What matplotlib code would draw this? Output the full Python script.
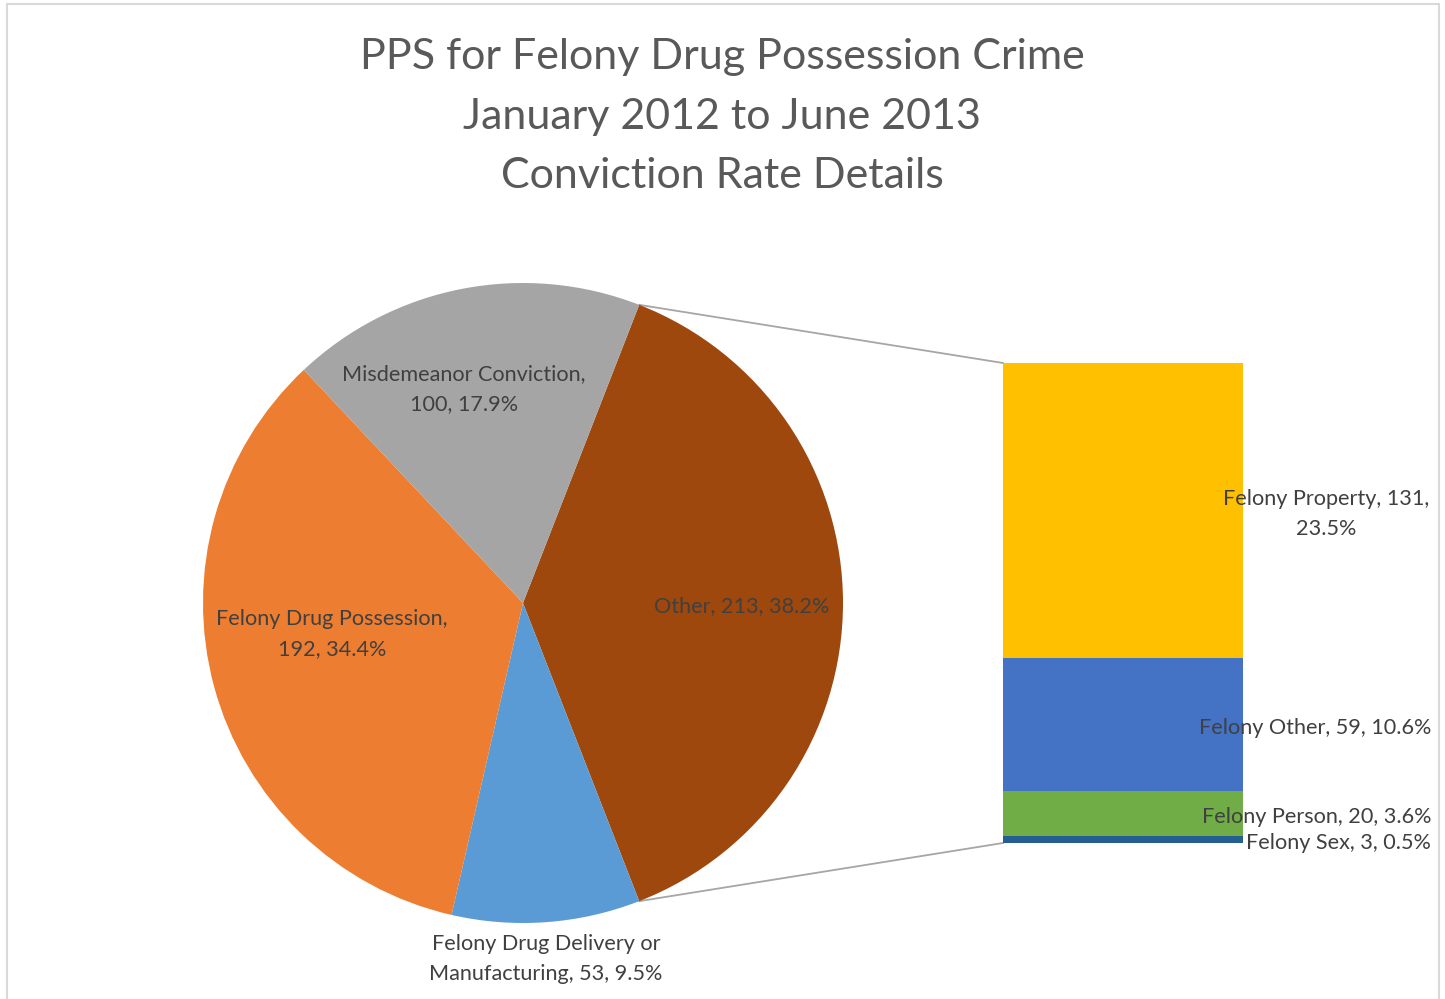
import numpy as np
import matplotlib.pyplot as plt
from matplotlib.patches import Rectangle

plt.rcParams['font.family'] = ['Lato', 'DejaVu Sans']

# Conviction outcomes (pie) and the split of "Other" (bar)
pie_names = ['Other', 'Felony Drug Delivery or\nManufacturing', 'Felony Drug Possession,\n', 'Misdemeanor Conviction,\n']
pie_counts = [213, 53, 192, 100]
pie_colors = ['#9E480E', '#5B9BD5', '#ED7D31', '#A5A5A5']

bar_names = ['Felony Sex', 'Felony Person', 'Felony Other', 'Felony Property']
bar_counts = [3, 20, 59, 131]
bar_colors = ['#255E91', '#70AD47', '#4472C4', '#FFC000']

title_lines = ['PPS for Felony Drug Possession Crime', 'January 2012 to June 2013', 'Conviction Rate Details']

W, H = 1445, 999
fig = plt.figure(figsize=(W / 100, H / 100), dpi=100)
ax = fig.add_axes([0, 0, 1, 1])

total = sum(pie_counts)
pct = [100 * c / total for c in pie_counts]

# pie: "Other" centred on the right-hand side
cx, cy, r = 523, H - 603, 320
other_span = 360 * pie_counts[0] / total
start = other_span / 2
ax.pie(pie_counts, colors=pie_colors, startangle=start, counterclock=False,
       center=(cx, cy), radius=r, frame=True)

# stacked bar for the breakdown of "Other"
bx, bw = 1003, 240
btop, bbot = H - 363, H - 843
scale = (btop - bbot) / sum(bar_counts)
bottoms = np.concatenate([[0], np.cumsum(bar_counts)[:-1]])
ax.bar(bx + bw / 2, np.array(bar_counts) * scale, width=bw,
       bottom=bbot + bottoms * scale, color=bar_colors, linewidth=0)

# connector lines from the edges of "Other" to the bar corners
for ang, by in [(start, btop), (-start, bbot)]:
    px = cx + r * np.cos(np.radians(ang))
    py = cy + r * np.sin(np.radians(ang))
    ax.plot([px, bx], [py, by], color='#A6A6A6', lw=1.3, zorder=0)

lab = dict(color='#404040', fontsize=15.6, ha='center', va='center', linespacing=1.65)
rlab = {**lab, 'ha': 'right'}

def fmt(name, count, p):
    return f'{name}{count}, {p:.1f}%' if name.endswith('\n') else f'{name}, {count}, {p:.1f}%'

ax.text(742, H - 606, fmt(pie_names[0], pie_counts[0], pct[0]), **lab)
ax.text(546, H - 959, fmt(pie_names[1], pie_counts[1], pct[1]), **lab)
ax.text(332, H - 634, fmt(pie_names[2], pie_counts[2], pct[2]), **lab)
ax.text(464, H - 389, fmt(pie_names[3], pie_counts[3], pct[3]), **lab)

bar_pct = [100 * c / total for c in bar_counts]
ax.text(1431, H - 843, f'{bar_names[0]}, {bar_counts[0]}, {bar_pct[0]:.1f}%', **rlab)
ax.text(1431, H - 817, f'{bar_names[1]}, {bar_counts[1]}, {bar_pct[1]:.1f}%', **rlab)
ax.text(1431, H - 728, f'{bar_names[2]}, {bar_counts[2]}, {bar_pct[2]:.1f}%', **rlab)
ax.text(1326, H - 514, f'{bar_names[3]}, {bar_counts[3]},\n{bar_pct[3]:.1f}%', **lab)

# title
for i, line in enumerate(title_lines):
    ax.text(722, H - 57 - 59.5 * i, line, color='#595959', fontsize=31, ha='center', va='center')

# chart frame
ax.add_patch(Rectangle((7, -10), 1432, H - 4 + 10, fill=False, edgecolor='#D9D9D9', lw=1.5))

ax.set_xlim(0, W)
ax.set_ylim(0, H)
ax.set_aspect('auto')
ax.axis('off')

fig.savefig('out.png', dpi=100)
